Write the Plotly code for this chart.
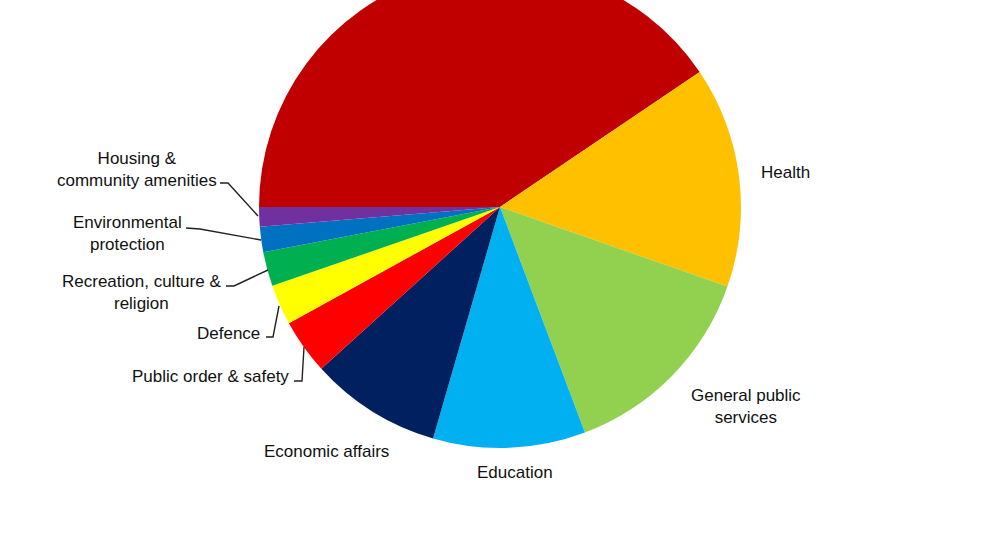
import plotly.graph_objects as go

# ---- data ----
categories = [
    "Social protection",
    "Health",
    "General public services",
    "Education",
    "Economic affairs",
    "Public order & safety",
    "Defence",
    "Recreation, culture & religion",
    "Environmental protection",
    "Housing & community amenities",
]
shares = [40.5, 14.8, 13.9, 10.2, 8.8, 3.7, 2.7, 2.3, 1.7, 1.3]
colors = ["#C00000", "#FFC000", "#92D050", "#00B0F0", "#002060",
          "#FF0000", "#FFFF00", "#00B050", "#0070C0", "#7030A0"]
label_texts = [
    None,
    "Health",
    "General public<br>services",
    "Education",
    "Economic affairs",
    "Public order & safety",
    "Defence",
    "Recreation, culture &<br>religion",
    "Environmental<br>protection",
    "Housing &<br>community amenities",
]

# ---- layout geometry (page pixels) ----
W, VIEW_H, SHIFT = 1001, 538, 40
H = VIEW_H + SHIFT
CX, CY, R = 500, 207, 241


def px(x):
    return x / W


def py(y):
    return 1 - (y + SHIFT) / H


# label anchor positions (page pixels) and alignment
label_pos = [
    None,
    (785, 172, "center"),
    (746, 406, "center"),
    (515, 472, "center"),
    (326, 451, "center"),
    (291, 376, "right"),
    (262, 333, "right"),
    (141, 292, "center"),
    (127, 234, "center"),
    (137, 169, "center"),
]
# leader lines (page pixels)
leaders = {
    5: [(294, 381), (302, 381), (304, 347)],
    6: [(266, 337), (273, 337), (279, 306)],
    7: [(226, 286), (234, 286), (268, 270)],
    8: [(186, 228), (200, 229), (261, 240)],
    9: [(220, 183), (228, 183), (258, 216)],
}

fig = go.Figure(
    go.Pie(
        labels=categories,
        values=shares,
        sort=False,
        direction="clockwise",
        rotation=-90,
        marker=dict(colors=colors, line=dict(width=0)),
        textinfo="none",
        hoverinfo="label+percent",
        showlegend=False,
        domain=dict(x=[px(CX - R), px(CX + R)], y=[py(CY + R), py(CY - R)]),
    )
)

annotations = []
for i, t in enumerate(label_texts):
    if t is None:
        continue
    x, y, align = label_pos[i]
    annotations.append(dict(
        x=px(x), y=py(y), xref="paper", yref="paper", text=t,
        showarrow=False, align="center",
        xanchor="right" if align == "right" else "center", yanchor="middle",
        font=dict(family="Liberation Sans, Arial, sans-serif", size=17, color="#111111"),
    ))

shapes = []
for i, pts in leaders.items():
    path = "M " + " L ".join(f"{px(x)},{py(y)}" for x, y in pts)
    shapes.append(dict(type="path", xref="paper", yref="paper", path=path,
                       line=dict(color="#222222", width=1.4)))

fig.update_layout(
    width=W, height=H,
    margin=dict(l=0, r=0, t=0, b=0),
    paper_bgcolor="white",
    annotations=annotations,
    shapes=shapes,
)

fig.write_html(
    "out.html",
    config={"displayModeBar": False},
    post_script=(
        "document.body.style.margin='0';"
        "document.body.style.overflow='hidden';"
        f"document.getElementById('{{plot_id}}').style.marginTop='-{SHIFT}px';"
    ),
)
